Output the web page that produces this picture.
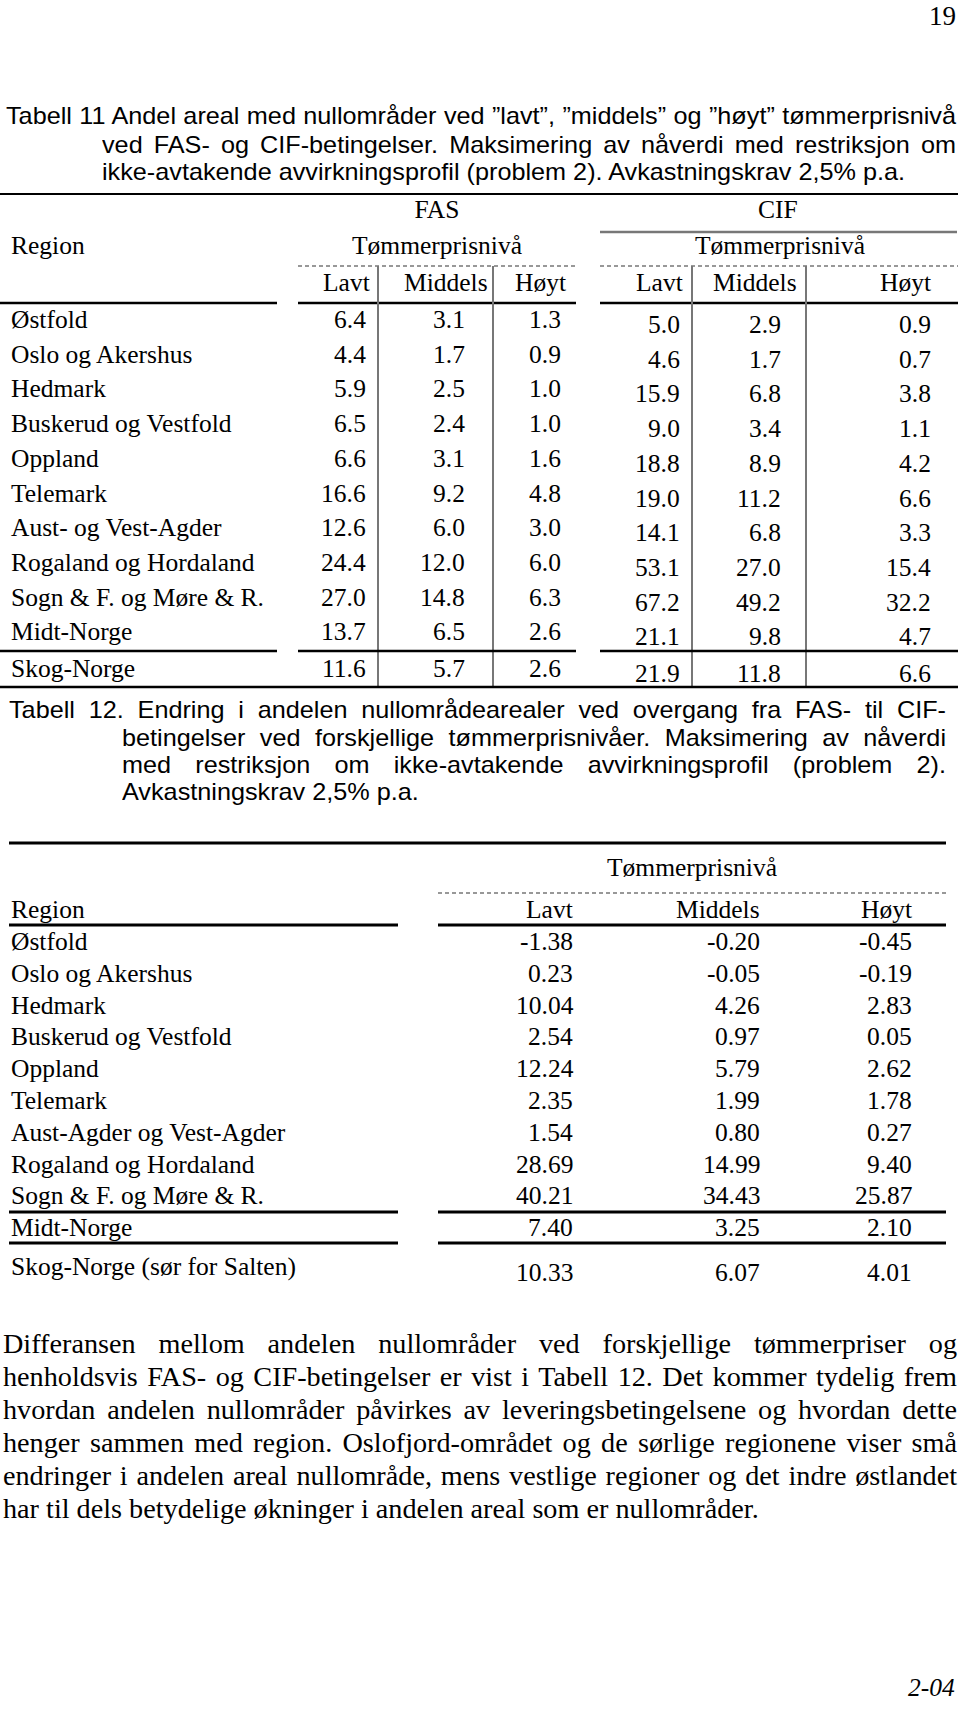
<!DOCTYPE html>
<html>
<head>
<meta charset="utf-8">
<script src="https://cdn.jsdelivr.net/npm/chart.js@4/dist/chart.umd.min.js"></script>
<style>
  html, body { margin: 0; padding: 0; background: #fff; }
  #page { position: relative; width: 960px; height: 1710px; overflow: hidden; color: #000; }
  .t { position: absolute; white-space: nowrap; font-family: "Liberation Serif", "Times New Roman", serif; font-size: 25.5px; line-height: 30px; }
  .cap { position: absolute; white-space: nowrap; font-family: "Liberation Sans", Arial, sans-serif; font-size: 24px; line-height: 28px; transform-origin: 0 50%; }
  svg { position: absolute; left: 0; top: 0; }
</style>
</head>
<body>
<div id="page">
  <svg id="lines" width="960" height="1710"></svg>
</div>
<script>
// Tabell 11 data
const regions11 = ['Østfold', 'Oslo og Akershus', 'Hedmark', 'Buskerud og Vestfold', 'Oppland', 'Telemark',
  'Aust- og Vest-Agder', 'Rogaland og Hordaland', 'Sogn & F. og Møre & R.', 'Midt-Norge', 'Skog-Norge'];
const fasLavt = [6.4, 4.4, 5.9, 6.5, 6.6, 16.6, 12.6, 24.4, 27.0, 13.7, 11.6];
const fasMiddels = [3.1, 1.7, 2.5, 2.4, 3.1, 9.2, 6.0, 12.0, 14.8, 6.5, 5.7];
const fasHoyt = [1.3, 0.9, 1.0, 1.0, 1.6, 4.8, 3.0, 6.0, 6.3, 2.6, 2.6];
const cifLavt = [5.0, 4.6, 15.9, 9.0, 18.8, 19.0, 14.1, 53.1, 67.2, 21.1, 21.9];
const cifMiddels = [2.9, 1.7, 6.8, 3.4, 8.9, 11.2, 6.8, 27.0, 49.2, 9.8, 11.8];
const cifHoyt = [0.9, 0.7, 3.8, 1.1, 4.2, 6.6, 3.3, 15.4, 32.2, 4.7, 6.6];
const levels = ['Lavt', 'Middels', 'Høyt'];

// Tabell 12 data
const regions12 = ['Østfold', 'Oslo og Akershus', 'Hedmark', 'Buskerud og Vestfold', 'Oppland', 'Telemark',
  'Aust-Agder og Vest-Agder', 'Rogaland og Hordaland', 'Sogn & F. og Møre & R.', 'Midt-Norge', 'Skog-Norge (sør for Salten)'];
const diffLavt = [-1.38, 0.23, 10.04, 2.54, 12.24, 2.35, 1.54, 28.69, 40.21, 7.40, 10.33];
const diffMiddels = [-0.20, -0.05, 4.26, 0.97, 5.79, 1.99, 0.80, 14.99, 34.43, 3.25, 6.07];
const diffHoyt = [-0.45, -0.19, 2.83, 0.05, 2.62, 1.78, 0.27, 9.40, 25.87, 2.10, 4.01];

const caption11 = [
  'Tabell 11 Andel areal med nullområder ved ”lavt”, ”middels” og ”høyt” tømmerprisnivå',
  'ved FAS- og CIF-betingelser. Maksimering av nåverdi med restriksjon om',
  'ikke-avtakende avvirkningsprofil (problem 2). Avkastningskrav 2,5% p.a.'
];
const caption12 = [
  'Tabell 12. Endring i andelen nullområdearealer ved overgang fra FAS- til CIF-',
  'betingelser ved forskjellige tømmerprisnivåer. Maksimering av nåverdi',
  'med restriksjon om ikke-avtakende avvirkningsprofil (problem 2).',
  'Avkastningskrav 2,5% p.a.'
];
const paragraph = [
  'Differansen mellom andelen nullområder ved forskjellige tømmerpriser og',
  'henholdsvis FAS- og CIF-betingelser er vist i Tabell 12. Det kommer tydelig frem',
  'hvordan andelen nullområder påvirkes av leveringsbetingelsene og hvordan dette',
  'henger sammen med region. Oslofjord-området og de sørlige regionene viser små',
  'endringer i andelen areal nullområde, mens vestlige regioner og det indre østlandet',
  'har til dels betydelige økninger i andelen areal som er nullområder.'
];

const page = document.getElementById('page');
const svg = document.getElementById('lines');

function txt(s, x, y, align, cls, extra) {
  const d = document.createElement('div');
  d.className = cls || 't';
  d.textContent = s;
  if (extra) Object.assign(d.style, extra);
  page.appendChild(d);
  const w = d.offsetWidth;
  const h = d.offsetHeight;
  let left = x;
  if (align === 'right') left = x - w;
  else if (align === 'center') left = x - w / 2;
  d.style.left = left + 'px';
  d.style.top = (y - h / 2) + 'px';
  return d;
}

function line(x1, y1, x2, y2, color, width, dash) {
  const l = document.createElementNS('http://www.w3.org/2000/svg', 'line');
  l.setAttribute('x1', x1); l.setAttribute('y1', y1);
  l.setAttribute('x2', x2); l.setAttribute('y2', y2);
  l.setAttribute('stroke', color || '#000');
  l.setAttribute('stroke-width', width || 2);
  if (dash) l.setAttribute('stroke-dasharray', dash);
  svg.appendChild(l);
}

// one text line stretched/squeezed to a given width
function justLine(s, x, y, width, cls, scale, justify, fontSize) {
  const d = document.createElement('div');
  d.className = cls;
  d.textContent = s;
  if (fontSize) d.style.fontSize = fontSize + 'px';
  page.appendChild(d);
  const h = d.offsetHeight;
  d.style.whiteSpace = justify ? 'normal' : 'nowrap';
  d.style.width = (width / scale + (justify ? 0 : 4)) + 'px';
  if (justify) d.style.textAlignLast = 'justify';
  d.style.left = x + 'px';
  d.style.top = (y - h / 2) + 'px';
  d.style.transform = 'scaleX(' + scale + ')';
  return d;
}

function naturalWidth(s, cls, fontSize) {
  const d = document.createElement('div');
  d.className = cls;
  d.textContent = s;
  if (fontSize) d.style.fontSize = fontSize + 'px';
  page.appendChild(d);
  const w = d.getBoundingClientRect().width;
  page.removeChild(d);
  return w;
}

// page number
txt('19', 956, 16, 'right', 't', { fontSize: '27px' });

// ---- Tabell 11 caption ----
const capScale = 803 / naturalWidth(caption11[2], 'cap');
justLine(caption11[0], 6, 116, 950, 'cap', capScale, true);
justLine(caption11[1], 102, 145, 854, 'cap', capScale, true);
justLine(caption11[2], 102, 172, 803, 'cap', capScale, false);

// ---- Tabell 11 ----
line(0, 194, 958, 194, '#000', 2);
txt('FAS', 437, 210, 'center');
txt('CIF', 778, 210, 'center');
line(600, 232, 957, 232, '#777', 2.5);
txt('Region', 11, 246, 'left');
txt('Tømmerprisnivå', 437, 246, 'center');
txt('Tømmerprisnivå', 780, 246, 'center');
line(298, 266, 575, 266, '#333', 1.2, '4 3');
line(600, 266, 958, 266, '#333', 1.2, '4 3');

const fasRight = [370, 488, 566];
const cifRight = [683, 797, 931];
levels.forEach((lv, i) => {
  txt(lv, fasRight[i], 283, 'right');
  txt(lv, cifRight[i], 283, 'right');
});
line(0, 303, 277, 303, '#000', 2.5);
line(298, 303, 576, 303, '#000', 2.5);
line(600, 303, 958, 303, '#000', 2.5);

// vertical separators
[378, 493, 692, 806].forEach(x => line(x, 266, x, 687, '#777', 2));

const fasCols = [fasLavt, fasMiddels, fasHoyt];
const cifCols = [cifLavt, cifMiddels, cifHoyt];
const fasNumRight = [366, 465, 561];
const cifNumRight = [680, 781, 931];
regions11.forEach((r, i) => {
  const y = i < 10 ? 320 + i * 34.7 : 669;
  txt(r, 11, y, 'left');
  fasCols.forEach((col, j) => txt(col[i].toFixed(1), fasNumRight[j], y, 'right'));
  cifCols.forEach((col, j) => txt(col[i].toFixed(1), cifNumRight[j], y + 5, 'right'));
});
line(0, 651, 277, 651, '#000', 2.5);
line(298, 651, 576, 651, '#000', 2.5);
line(600, 651, 958, 651, '#000', 2.5);
line(0, 687, 958, 687, '#000', 2.5);

// ---- Tabell 12 caption ----
justLine(caption12[0], 9, 710, 937, 'cap', capScale, true);
justLine(caption12[1], 122, 738, 824, 'cap', capScale, true);
justLine(caption12[2], 122, 765, 824, 'cap', capScale, true);
justLine(caption12[3], 122, 792, 300, 'cap', capScale, false);

// ---- Tabell 12 ----
line(9, 843, 946, 843, '#000', 3);
txt('Tømmerprisnivå', 692, 868, 'center');
line(438, 893, 949, 893, '#333', 1.2, '4 3');
txt('Region', 11, 910, 'left');
const diffRight = [573, 760, 912];
levels.forEach((lv, i) => txt(lv, diffRight[i], 910, 'right'));
line(9, 925, 398, 925, '#000', 3);
line(438, 925, 946, 925, '#000', 3);

const diffCols = [diffLavt, diffMiddels, diffHoyt];
regions12.forEach((r, i) => {
  let y = 942 + i * 31.8;
  let yn = y;
  if (i === 10) { y = 1267; yn = 1273; }
  txt(r, 11, y, 'left');
  diffCols.forEach((col, j) => txt(col[i].toFixed(2), diffRight[j], yn, 'right'));
});
line(9, 1212, 398, 1212, '#000', 3);
line(438, 1212, 946, 1212, '#000', 3);
line(9, 1243, 398, 1243, '#000', 3);
line(438, 1243, 946, 1243, '#000', 3);

// ---- paragraph ----
const paraFont = 24 * 756 / naturalWidth(paragraph[5], 't', 24);
paragraph.forEach((s, i) => {
  justLine(s, 3, 1344 + i * 33, i < 5 ? 954 : 756, 't', 1, i < 5, paraFont);
});

// footer
txt('2-04', 955, 1688, 'right', 't', { fontStyle: 'italic' });
</script>
</body>
</html>
